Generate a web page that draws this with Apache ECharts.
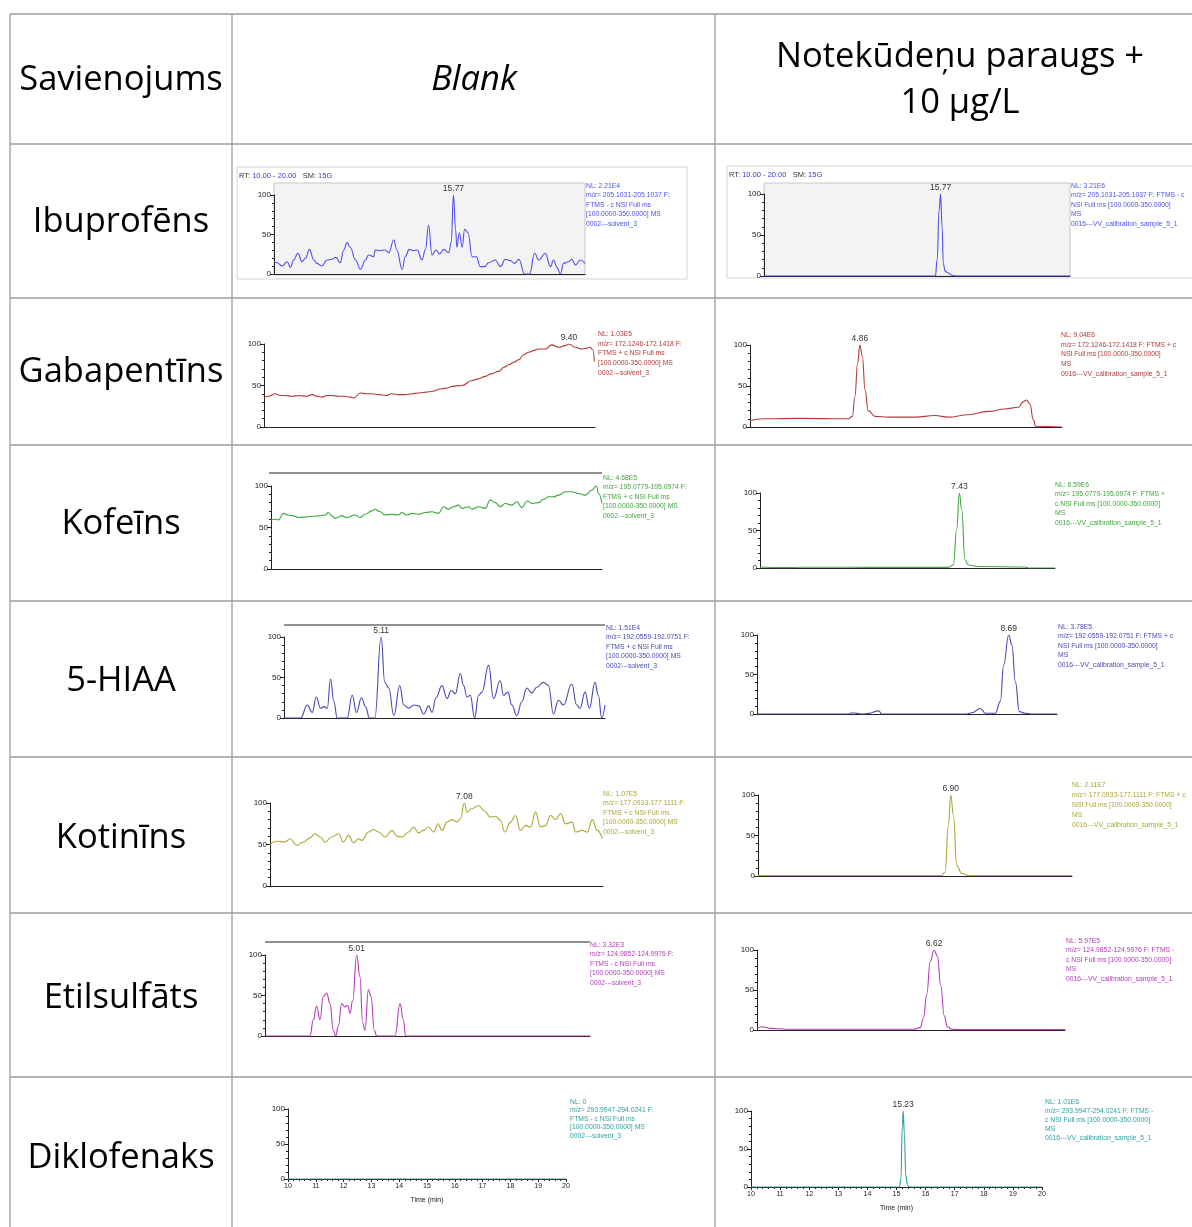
<!DOCTYPE html>
<html><head><meta charset="utf-8">
<script src="https://cdn.jsdelivr.net/npm/echarts@6/dist/echarts.min.js"></script>
<style>html,body{margin:0;padding:0;background:#fff}#c{width:1192px;height:1227px}</style>
</head><body><div id="c"></div>
<script>
// ---------- DATA ----------
const headerTexts = ["Savienojums", "Blank", "Notekūdeņu paraugs +", "10 µg/L"];
const compounds = ["Ibuprofēns", "Gabapentīns", "Kofeīns", "5-HIAA", "Kotinīns", "Etilsulfāts", "Diklofenaks"];
const rtHeader = ["RT: ", "10.00 - 20.00", "   SM: ", "15G"];
const yTicks = [0, 50, 100];
const timeTicks = [10, 11, 12, 13, 14, 15, 16, 17, 18, 19, 20];

// [time (min), relative abundance (%)]
const ibuBlank = [[10.0,15.6],[10.10,14.3],[10.26,10.1],[10.42,15.6],[10.53,8.4],[10.63,17.7],[10.77,26.2],[10.90,15.6],[11.01,19.8],[11.14,31.2],[11.28,17.7],[11.38,13.5],[11.54,10.1],[11.70,17.7],[11.86,18.6],[11.99,21.1],[12.13,14.3],[12.24,30.4],[12.35,39.7],[12.45,33.8],[12.62,17.7],[12.78,5.9],[12.94,17.7],[13.04,24.1],[13.20,21.9],[13.26,30.4],[13.42,29.5],[13.58,30.4],[13.69,27.0],[13.85,43.0],[13.95,30.4],[14.12,5.9],[14.22,21.9],[14.35,31.2],[14.49,29.5],[14.60,30.4],[14.76,17.7],[14.87,31.2],[14.97,62.0],[15.08,24.1],[15.21,30.4],[15.32,25.3],[15.46,31.2],[15.62,27.0],[15.70,40],[15.77,100],[15.84,55.7],[15.88,33.8],[15.96,52.3],[16.05,33.8],[16.13,56.5],[16.24,52.3],[16.37,21.9],[16.51,21.9],[16.63,9.3],[16.77,9.3],[16.90,14.3],[17.12,17.7],[17.28,9.3],[17.44,18.6],[17.60,16.9],[17.74,13.5],[17.87,18.6],[18.06,0],[18.22,0],[18.38,26.2],[18.51,17.7],[18.72,26.2],[18.89,9.3],[18.99,17.7],[19.10,8.4],[19.21,0],[19.31,13.5],[19.47,15.6],[19.58,18.6],[19.69,11.4],[19.85,17.7],[20.0,13.5]];
const ibuSample = [[10,0],[15.60,0],[15.66,20],[15.72,80],[15.77,100],[15.82,60],[15.86,15],[15.92,6],[16.00,4],[16.15,1],[16.25,0],[20,0]];

const gabaBlank = [[0,36],[0.14,37],[0.35,40],[0.5,38],[0.66,38],[0.85,37],[1.07,38],[1.3,37],[1.48,39],[1.65,37],[1.79,36],[1.95,38],[2.10,38],[2.3,37],[2.51,37],[2.65,36],[2.76,35],[2.97,41],[3.15,40],[3.33,40],[3.55,39],[3.74,38],[3.94,40],[4.15,39],[4.35,39],[4.55,40],[4.77,41],[5.0,42],[5.18,43],[5.48,46],[5.65,47],[5.79,49],[6.10,50],[6.41,56],[6.6,58],[6.82,61],[7.0,64],[7.23,67],[7.4,72],[7.54,75],[7.7,78],[7.85,81],[8.0,87],[8.15,90],[8.3,92],[8.46,94],[8.67,94],[8.87,99],[9.08,96],[9.28,98],[9.40,100],[9.59,96],[9.80,94],[9.95,95],[10.05,96],[10.13,93],[10.18,79]];
const gabaSample = [[0,8],[0.66,10],[2.14,10.5],[4.35,10],[4.53,13],[4.64,37],[4.76,78],[4.86,100],[4.97,86],[5.09,45],[5.23,20],[5.53,13],[6.12,12],[7.30,12],[8.18,14],[8.77,12],[9.65,15],[10.54,19],[11.28,22],[11.87,24],[12.09,31],[12.23,33],[12.38,28],[12.53,9],[12.63,1],[13.78,0]];

const kofBlank = [[0,59],[0.12,60],[0.22,59],[0.37,67],[0.52,65],[0.67,64],[0.82,62],[1.12,63],[1.42,64],[1.62,65],[1.72,68],[1.82,64],[1.92,61],[2.12,64],[2.27,62],[2.52,65],[2.67,62],[2.82,66],[3.02,70],[3.12,72],[3.27,69],[3.42,65],[3.62,66],[3.82,65],[3.92,68],[4.07,65],[4.22,67],[4.42,66],[4.62,68],[4.82,69],[5.02,67],[5.17,75],[5.32,72],[5.47,75],[5.62,77],[5.72,73],[5.92,75],[6.02,72],[6.22,75],[6.42,73],[6.57,83],[6.72,80],[6.87,75],[7.02,79],[7.22,77],[7.37,81],[7.52,74],[7.67,82],[7.82,79],[8.02,80],[8.17,84],[8.32,87],[8.47,87],[8.62,89],[8.82,93],[9.02,93],[9.22,91],[9.42,89],[9.62,95],[9.75,100],[9.82,91],[9.92,79]];
const kofSample = [[1.45,1.3],[2.10,0.5],[2.70,1],[4.10,1],[5.30,0.8],[6.30,1],[7.10,0.8],[7.25,4],[7.35,51],[7.43,100],[7.50,78],[7.60,11],[7.70,4],[8.00,2],[9.40,1.3],[9.50,0],[10.30,0]];

const hiaaBlank = [[2.19,0],[2.69,0],[2.89,16],[3.04,7],[3.16,26],[3.29,12],[3.39,14],[3.49,12],[3.59,48],[3.69,20],[3.79,0],[4.09,0],[4.24,28],[4.37,7],[4.52,25],[4.64,14],[4.76,0],[4.92,0],[5.11,100],[5.22,44],[5.34,37],[5.49,3],[5.67,40],[5.79,16],[5.94,12],[6.09,16],[6.24,15],[6.39,5],[6.54,15],[6.64,7],[6.76,25],[6.94,40],[7.09,24],[7.22,34],[7.34,30],[7.49,55],[7.59,40],[7.69,26],[7.79,28],[7.92,0],[8.04,28],[8.14,32],[8.34,65],[8.49,24],[8.69,46],[8.79,28],[8.92,32],[9.04,16],[9.19,3],[9.34,20],[9.49,37],[9.64,31],[9.79,38],[9.99,44],[10.14,40],[10.29,5],[10.44,22],[10.59,16],[10.84,42],[10.99,16],[11.09,12],[11.24,32],[11.37,12],[11.54,44],[11.64,28],[11.74,0],[11.84,16]];
const hiaaSample = [[1.14,0],[3.89,0],[3.99,1.5],[4.29,0],[4.49,0.8],[4.79,4],[4.89,0],[7.39,0],[7.59,1.5],[7.84,7],[7.99,1],[8.29,1],[8.44,16],[8.54,62],[8.69,100],[8.79,87],[8.89,41],[9.01,3],[9.19,1],[9.34,0],[10.14,0]];

const kotBlank = [[1.26,49],[1.36,53],[1.51,54],[1.71,53],[1.86,57],[2.06,49],[2.26,53],[2.46,58],[2.61,63],[2.76,59],[2.91,53],[3.11,59],[3.31,63],[3.46,53],[3.61,61],[3.76,52],[3.91,57],[4.01,55],[4.21,65],[4.36,68],[4.51,65],[4.71,59],[4.91,67],[5.06,60],[5.21,59],[5.41,65],[5.56,71],[5.71,64],[5.86,67],[6.01,71],[6.16,65],[6.29,75],[6.41,67],[6.56,77],[6.71,80],[6.86,77],[6.96,81],[7.08,100],[7.16,89],[7.29,93],[7.51,97],[7.66,91],[7.86,83],[8.01,84],[8.16,79],[8.29,65],[8.46,77],[8.61,85],[8.76,67],[8.91,73],[9.06,71],[9.21,89],[9.36,71],[9.51,73],[9.66,85],[9.81,80],[9.96,87],[10.11,75],[10.31,77],[10.41,65],[10.61,67],[10.76,65],[10.91,80],[11.06,67],[11.21,57]];
const kotSample = [[1.13,0.5],[6.63,0.5],[6.73,5],[6.83,63],[6.90,100],[6.98,75],[7.08,13],[7.23,3],[7.43,0.5],[10.53,0.5]];

const etilBlank = [[2.26,0],[3.61,0],[3.71,20],[3.81,37],[3.91,20],[4.01,49],[4.11,53],[4.21,40],[4.31,7],[4.38,0],[4.46,12],[4.56,40],[4.66,36],[4.74,38],[4.81,28],[4.89,44],[5.01,100],[5.11,73],[5.19,16],[5.26,7],[5.36,57],[5.44,49],[5.54,7],[5.61,0],[6.16,0],[6.31,40],[6.41,20],[6.48,0],[12.01,0]];
const etilSample = [[1.30,2],[1.45,4],[1.70,2],[2.20,1],[4.00,1],[6.00,1],[6.20,3],[6.30,15],[6.40,45],[6.50,85],[6.62,100],[6.72,92],[6.82,55],[6.92,18],[7.02,4],[7.15,1],[7.40,0.5],[10.55,0.5]];

const diklBlank = [[10,0],[15,0],[20,0]];
const diklSample = [[10,0],[15.10,0],[15.15,10],[15.20,80],[15.23,100],[15.27,70],[15.32,15],[15.38,2],[15.45,0],[20,0]];

const ibuBlankInfo = ["NL: 2.21E4", "m/z= 205.1031-205.1037 F:", "FTMS - c NSI Full ms", "[100.0000-350.0000] MS", "0002---solvent_3"];
const ibuSampleInfo = ["NL: 3.21E6", "m/z= 205.1031-205.1037 F: FTMS - c", "NSI Full ms [100.0000-350.0000]", "MS", "0016---VV_calibration_sample_5_1"];
const gabaBlankInfo = ["NL: 1.03E5", "m/z= 172.1246-172.1418 F:", "FTMS + c NSI Full ms", "[100.0000-350.0000] MS", "0002---solvent_3"];
const gabaSampleInfo = ["NL: 9.04E6", "m/z= 172.1246-172.1418 F: FTMS + c", "NSI Full ms [100.0000-350.0000]", "MS", "0016---VV_calibration_sample_5_1"];
const kofBlankInfo = ["NL: 4.68E5", "m/z= 195.0779-195.0974 F:", "FTMS + c NSI Full ms", "[100.0000-350.0000] MS", "0002---solvent_3"];
const kofSampleInfo = ["NL: 8.59E6", "m/z= 195.0779-195.0974 F: FTMS +", "c NSI Full ms [100.0000-350.0000]", "MS", "0016---VV_calibration_sample_5_1"];
const hiaaBlankInfo = ["NL: 1.51E4", "m/z= 192.0559-192.0751 F:", "FTMS + c NSI Full ms", "[100.0000-350.0000] MS", "0002---solvent_3"];
const hiaaSampleInfo = ["NL: 3.78E5", "m/z= 192.0559-192.0751 F: FTMS + c", "NSI Full ms [100.0000-350.0000]", "MS", "0016---VV_calibration_sample_5_1"];
const kotBlankInfo = ["NL: 1.07E5", "m/z= 177.0933-177.1111 F:", "FTMS + c NSI Full ms", "[100.0000-350.0000] MS", "0002---solvent_3"];
const kotSampleInfo = ["NL: 2.11E7", "m/z= 177.0933-177.1111 F: FTMS + c", "NSI Full ms [100.0000-350.0000]", "MS", "0016---VV_calibration_sample_5_1"];
const etilBlankInfo = ["NL: 3.32E3", "m/z= 124.9852-124.9976 F:", "FTMS - c NSI Full ms", "[100.0000-350.0000] MS", "0002---solvent_3"];
const etilSampleInfo = ["NL: 5.97E5", "m/z= 124.9852-124.9976 F: FTMS -", "c NSI Full ms [100.0000-350.0000]", "MS", "0016---VV_calibration_sample_5_1"];
const diklBlankInfo = ["NL: 0", "m/z= 293.9947-294.0241 F:", "FTMS - c NSI Full ms", "[100.0000-350.0000] MS", "0002---solvent_3"];
const diklSampleInfo = ["NL: 1.01E6", "m/z= 293.9947-294.0241 F: FTMS -", "c NSI Full ms [100.0000-350.0000]", "MS", "0016---VV_calibration_sample_5_1"];

// ---------- LAYOUT / STYLE ----------
const FONT = "'Open Sans', 'Noto Sans', sans-serif";
const SMALL = "'Liberation Sans', Arial, sans-serif";
const BIG = 34.5;
const colors = {ibu:'#4f4ff0', gaba:'#b23a3a', kof:'#3fa63f', hiaa:'#4848b4', kot:'#a9a934', etil:'#b43cb8', dikl:'#2c9f9f'};

const panels = [
  {d: ibuBlank,  c: colors.ibu,  g:[274,195,311,79], x:[10,20],      info: ibuBlankInfo,  ip:[586,186], lh:9.5, peak:true},
  {d: ibuSample, c: colors.ibu,  g:[764,194,306,82], x:[10,20],      info: ibuSampleInfo, ip:[1071,186], lh:9.5, peak:true},
  {d: gabaBlank, c: colors.gaba, g:[264,344,331,83], x:[0,10.2],    info: gabaBlankInfo, ip:[598,334], lh:9.8, peak:true},
  {d: gabaSample,c: colors.gaba, g:[750,345,312,82], x:[0,13.8],    info: gabaSampleInfo,ip:[1061,335], lh:9.8, peak:true},
  {d: kofBlank,  c: colors.kof,  g:[271,486,331,83], x:[0,9.92],    info: kofBlankInfo,  ip:[603,478], lh:9.5, peak:false},
  {d: kofSample, c: colors.kof,  g:[760,493,295,75], x:[1.45,10.30],info: kofSampleInfo, ip:[1055,485], lh:9.5, peak:true},
  {d: hiaaBlank, c: colors.hiaa, g:[284,637,321,81], x:[2.19,11.84],info: hiaaBlankInfo, ip:[606,628], lh:9.5, peak:true},
  {d: hiaaSample,c: colors.hiaa, g:[757,635,300,79], x:[1.14,10.14],info: hiaaSampleInfo,ip:[1058,627], lh:9.5, peak:true},
  {d: kotBlank,  c: colors.kot,  g:[270,803,333,83], x:[1.26,11.23],info: kotBlankInfo,  ip:[603,794], lh:9.5, peak:true},
  {d: kotSample, c: colors.kot,  g:[758,795,314,81], x:[1.13,10.53],info: kotSampleInfo, ip:[1072,785], lh:10, peak:true},
  {d: etilBlank, c: colors.etil, g:[265,955,325,81], x:[2.26,12.01],info: etilBlankInfo, ip:[590,945], lh:9.5, peak:true},
  {d: etilSample,c: colors.etil, g:[757,950,308,80], x:[1.30,10.55],info: etilSampleInfo,ip:[1066,941], lh:9.5, peak:true},
  {d: diklBlank, c: colors.dikl, g:[288,1109,278,70],x:[10,20],     info: diklBlankInfo, ip:[570,1102], lh:8.5, peak:false, time:true},
  {d: diklSample,c: colors.dikl, g:[751,1111,291,76],x:[10,20],     info: diklSampleInfo,ip:[1045,1102], lh:9, peak:true, time:true}
];

const chart = echarts.init(document.getElementById('c'), null, {renderer:'canvas', width:1192, height:1227});

const grids = [], xAxes = [], yAxes = [], series = [], graphics = [];

function peakOf(d){ let m = d[0]; d.forEach(p => { if (p[1] > m[1]) m = p; }); return m; }

panels.forEach((p, i) => {
  grids.push({left:p.g[0], top:p.g[1], width:p.g[2], height:p.g[3], containLabel:false});
  xAxes.push({
    type:'value', gridIndex:i, min:p.x[0], max:p.x[1],
    interval: p.time ? 1 : undefined,
    axisLine:{show:true, lineStyle:{color:'#222', width:1}},
    axisTick:{show:!!p.time, length:3, lineStyle:{color:'#222'}},
    minorTick:{show:!!p.time, splitNumber:5, length:2, lineStyle:{color:'#222'}},
    axisLabel:{show:!!p.time, fontSize:7, color:'#222', margin:4, fontFamily:SMALL,
      customValues: p.time ? timeTicks : undefined},
    splitLine:{show:false},
    name: p.time ? 'Time (min)' : '', nameLocation:'middle', nameGap:18,
    nameTextStyle:{fontSize:7, color:'#222', fontFamily:SMALL}
  });
  yAxes.push({
    type:'value', gridIndex:i, min:0, max:100, interval:50,
    axisLine:{show:true, lineStyle:{color:'#222', width:1}},
    axisTick:{show:true, length:4, lineStyle:{color:'#222'}},
    minorTick:{show:true, splitNumber:5, length:2, lineStyle:{color:'#222'}},
    axisLabel:{fontSize:8, color:'#222', margin:3, fontFamily:SMALL, customValues: yTicks},
    splitLine:{show:false}
  });
  const s = {
    type:'line', xAxisIndex:i, yAxisIndex:i, data:p.d, showSymbol:false,
    smooth:0.45, smoothMonotone:'x',
    lineStyle:{color:p.c, width:1.1}, itemStyle:{color:p.c}, silent:true, z:3
  };
  if (p.peak) {
    const pk = peakOf(p.d);
    s.markPoint = {symbol:'circle', symbolSize:1, itemStyle:{color:'rgba(0,0,0,0)'}, silent:true,
      label:{show:true, position:'top', distance:1, formatter: pk[0].toFixed(2), color:'#333', fontSize:8.5, fontFamily:SMALL},
      data:[{coord:pk}]};
  }
  series.push(s);
  p.info.forEach((t, k) => {
    graphics.push({type:'text', z:50, style:{text:t, x:p.ip[0], y:p.ip[1] + k*p.lh, fill:p.c,
      font:'6.8px ' + SMALL, align:'left', verticalAlign:'middle'}});
  });
});

// table lines
const L = '#9c9c9c';
const hl = [14, 144, 298, 445, 601, 757, 913, 1077];
hl.forEach(y => graphics.push({type:'line', z:1, shape:{x1:10, y1:y, x2:1192, y2:y}, style:{stroke:L, lineWidth:1.3}}));
[10, 232, 715].forEach(x => graphics.push({type:'line', z:1, shape:{x1:x, y1:14, x2:x, y2:1227}, style:{stroke:L, lineWidth:1.3}}));

// header texts
graphics.push({type:'text', z:50, style:{text:headerTexts[0], x:121, y:80, font:BIG + 'px ' + FONT, fill:'#000', align:'center', verticalAlign:'middle'}});
graphics.push({type:'text', z:50, style:{text:headerTexts[1], x:474, y:80, font:'italic ' + BIG + 'px ' + FONT, fill:'#000', align:'center', verticalAlign:'middle'}});
graphics.push({type:'text', z:50, style:{text:headerTexts[2], x:960, y:57, font:BIG + 'px ' + FONT, fill:'#000', align:'center', verticalAlign:'middle'}});
graphics.push({type:'text', z:50, style:{text:headerTexts[3], x:960, y:103, font:BIG + 'px ' + FONT, fill:'#000', align:'center', verticalAlign:'middle'}});
const rowY = [222, 372, 524, 681, 838, 998, 1158];
compounds.forEach((c, k) => graphics.push({type:'text', z:50, style:{text:c, x:121, y:rowY[k], font:BIG + 'px ' + FONT, fill:'#000', align:'center', verticalAlign:'middle'}}));

// Ibuprofen panel frames and plot backgrounds
graphics.push({type:'rect', z:0, shape:{x:237, y:167, width:450, height:112}, style:{fill:'#fff', stroke:'#d4d4d4', lineWidth:1}});
graphics.push({type:'rect', z:0, shape:{x:727, y:166, width:470, height:112}, style:{fill:'#fff', stroke:'#d4d4d4', lineWidth:1}});
graphics.push({type:'rect', z:0, shape:{x:274, y:183, width:311, height:92}, style:{fill:'#f3f3f3', stroke:'#c8c8c8', lineWidth:1}});
graphics.push({type:'rect', z:0, shape:{x:764, y:183, width:306, height:93}, style:{fill:'#f3f3f3', stroke:'#c8c8c8', lineWidth:1}});
[[239,176],[729,175]].forEach(pt => graphics.push({type:'text', z:50, style:{
  text:'{k|' + rtHeader[0] + '}{v|' + rtHeader[1] + '}{k|' + rtHeader[2] + '}{v|' + rtHeader[3] + '}',
  x:pt[0], y:pt[1], align:'left', verticalAlign:'middle',
  rich:{k:{fill:'#333', font:'7.5px ' + SMALL}, v:{fill:'#3a3ad0', font:'7.5px ' + SMALL}}}}));

// top lines above some blank traces
[[269,602,473],[284,605,625],[265,590,942]].forEach(a => graphics.push({type:'line', z:1, shape:{x1:a[0], y1:a[2], x2:a[1], y2:a[2]}, style:{stroke:'#222', lineWidth:1}}));

chart.setOption({
  animation:false, backgroundColor:'#fff',
  grid:grids, xAxis:xAxes, yAxis:yAxes, series:series, graphic:{elements:graphics}
});
</script></body></html>
